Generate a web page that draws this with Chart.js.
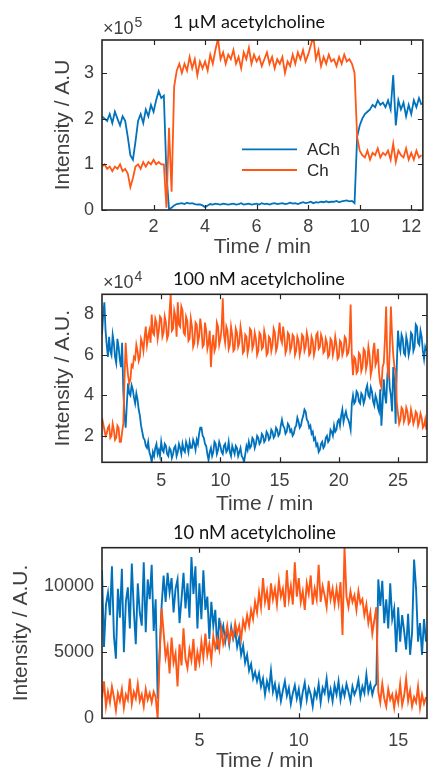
<!DOCTYPE html>
<html><head><meta charset="utf-8">
<script src="https://cdn.jsdelivr.net/npm/chart.js@4.4.0/dist/chart.umd.min.js"></script>
<style>
html,body{margin:0;padding:0;background:#fff;width:428px;height:770px;overflow:hidden}
.p{position:absolute;left:0;width:428px}
</style></head><body>
<div class="p" style="top:0;height:258px"><canvas id="c1"></canvas></div>
<div class="p" style="top:258px;height:256px"><canvas id="c2"></canvas></div>
<div class="p" style="top:514px;height:256px"><canvas id="c3"></canvas></div>
<script>
// ---------- Panel 1: 1 µM acetylcholine (values ×10^5) ----------
const time1Start = 0, time1Step = 0.1;
const ach1 = [
2.05,2.0,1.95,2.1,1.9,2.15,2.0,1.85,2.05,1.95,
1.6,1.2,1.1,1.5,1.95,2.1,1.9,2.2,2.05,2.3,
2.15,2.4,2.6,2.45,2.5,
0.8,0.02,0.05,0.1,0.13,
0.14,0.15,0.13,0.16,0.14,0.15,0.13,0.12,0.12,0.1,
0.06,0.1,0.13,0.12,0.14,0.13,0.12,0.14,0.13,0.12,
0.13,0.14,0.12,0.13,0.15,0.12,0.13,0.14,0.12,0.13,
0.14,0.12,0.15,0.13,0.14,0.12,0.14,0.15,0.13,0.14,
0.15,0.13,0.14,0.16,0.14,0.15,0.13,0.15,0.17,0.15,
0.16,0.18,0.15,0.17,0.16,0.18,0.17,0.19,0.17,0.18,
0.18,0.2,0.17,0.19,0.2,0.21,0.19,0.2,0.15,1.6,
1.85,2.0,2.1,2.15,2.2,2.3,2.25,2.4,2.3,2.35,
2.25,2.4,2.2,2.95,1.85,2.4,2.2,2.35,2.05,2.3,
2.1,2.4,2.25,2.45,2.3];
const ch1 = [
0.95,1.0,0.9,0.95,0.85,0.95,0.9,1.0,0.85,0.9,
0.8,0.5,0.7,0.95,1.0,0.9,1.05,0.95,1.05,1.0,
1.1,1.0,1.05,1.0,1.0,
0.05,1.8,0.4,2.7,3.05,
3.2,3.0,3.2,3.05,3.35,3.1,3.3,2.95,3.25,3.1,
3.25,3.05,3.4,3.2,3.5,3.75,3.3,3.45,3.2,3.4,
3.3,3.5,3.2,3.35,3.1,3.45,3.3,3.55,3.2,3.4,
3.25,3.35,3.15,3.3,3.45,3.2,3.35,3.1,3.3,3.2,
3.35,3.0,3.25,3.15,3.4,3.2,3.45,3.3,3.5,3.25,
3.4,3.6,3.8,3.3,3.5,3.15,3.35,3.2,3.4,3.25,
3.3,3.15,3.35,3.2,3.4,3.25,3.3,3.2,3.0,1.6,
1.3,1.2,1.15,1.3,1.1,1.25,1.2,1.35,1.15,1.25,
1.2,1.3,1.1,1.45,1.05,1.3,1.2,1.15,1.35,1.1,
1.25,1.1,1.3,1.15,1.2];
const xTicks1 = [2,4,6,8,10,12];
const yTicks1 = [0,1,2,3];

// ---------- Panel 2: 100 nM acetylcholine (values ×10^4) ----------
const time2Start = 0, time2Step = 0.1;
const ach2 = [
7.0,8.0,8.6,7.2,6.5,5.9,6.9,6.2,6.0,7.0,
6.6,5.9,5.6,6.8,6.4,5.8,5.4,6.6,4.2,3.0,
2.4,3.6,4.6,4.1,4.0,4.5,4.3,3.9,3.6,4.1,
3.8,3.3,3.0,2.5,2.2,1.9,1.8,1.5,1.4,1.7,
1.2,1.0,0.7,1.2,1.0,1.4,1.6,1.1,1.3,1.0,
1.7,1.3,1.2,1.6,1.5,1.1,1.0,1.4,1.3,0.9,
1.1,1.4,1.5,1.0,1.2,1.6,1.4,1.1,1.6,1.3,
1.2,1.7,1.5,1.2,1.7,1.4,1.4,1.8,1.6,1.3,
1.8,1.6,2.1,2.4,2.4,2.0,1.9,1.6,1.5,1.1,
0.8,1.2,1.4,1.0,1.2,1.7,1.6,1.1,1.3,1.7,
1.5,1.2,1.1,1.5,1.6,1.2,1.3,1.7,1.2,1.0,
1.5,1.3,1.1,1.5,1.4,1.0,1.2,1.4,1.0,0.9,
0.7,1.1,1.5,1.3,1.7,1.4,1.5,1.9,1.8,1.4,
1.6,2.0,1.9,1.6,1.7,2.1,2.0,1.7,1.8,2.2,
2.1,1.8,1.9,2.3,2.2,1.9,2.0,2.4,2.3,2.0,
2.1,2.5,2.8,2.5,2.4,2.1,2.2,2.6,2.5,2.2,
2.3,2.0,2.1,2.4,2.5,2.9,2.7,2.4,2.5,2.8,
3.0,3.3,3.2,2.8,2.7,2.4,2.5,2.1,2.2,1.8,
1.9,1.5,1.6,1.2,1.3,1.6,1.7,1.4,1.5,1.9,
2.0,1.7,1.8,2.3,2.2,2.0,2.5,2.2,2.3,2.7,
2.8,2.5,3.0,3.3,2.7,3.0,3.2,2.9,2.8,2.6,
2.3,3.6,4.0,3.6,3.7,4.2,4.1,3.7,3.6,4.1,
4.0,3.6,3.8,4.3,4.5,4.0,3.9,4.4,4.2,3.7,
3.5,4.0,3.8,3.4,3.2,4.3,2.5,3.6,4.8,4.0,
3.6,5.0,5.6,4.4,4.0,3.2,5.4,4.6,2.6,5.5,
7.2,6.5,6.2,7.0,6.8,6.1,6.0,6.9,6.6,6.0,
6.3,7.1,7.0,6.2,6.4,7.5,7.4,6.6,6.5,7.2,
6.9,6.2,5.8,6.4,6.2];
const ch2 = [
2.9,2.6,2.3,2.0,2.1,2.4,2.5,1.9,2.0,2.6,
2.3,1.8,1.9,2.5,2.4,1.7,1.7,2.2,2.6,4.8,
6.6,5.6,5.0,4.6,4.8,5.5,5.4,5.9,5.8,6.5,
6.2,5.7,5.9,6.8,6.6,6.2,6.9,7.4,6.5,6.9,
7.2,6.6,8.0,7.1,7.0,7.8,7.6,6.8,7.2,7.9,
7.8,6.9,7.1,7.9,7.6,6.8,7.0,8.1,9.0,7.2,
7.3,8.2,7.9,6.9,8.6,7.5,7.4,8.4,8.2,7.1,
7.0,7.9,7.7,6.7,6.8,7.8,7.4,6.4,6.6,7.6,
7.5,6.6,6.9,7.8,7.3,6.4,6.5,7.6,7.2,6.3,
6.6,7.2,5.4,6.5,7.0,6.2,6.4,7.6,7.4,6.5,
6.8,7.3,8.8,7.0,6.6,7.4,7.2,6.3,6.5,7.4,
7.0,6.2,6.3,7.3,7.1,6.4,6.6,7.4,7.0,6.1,
6.2,7.0,6.9,6.1,6.4,7.3,7.2,6.3,6.5,7.1,
6.8,6.0,6.2,7.1,7.0,6.3,6.4,7.2,6.9,6.0,
6.1,6.9,6.8,6.2,6.5,7.3,7.1,6.2,6.4,7.0,
7.6,6.8,6.6,7.4,6.9,6.1,6.3,7.1,7.0,6.2,
6.4,7.0,6.9,6.0,6.2,6.9,6.7,6.0,6.3,7.0,
6.9,6.2,6.4,7.1,6.8,6.0,6.1,6.9,6.7,6.0,
6.3,7.0,7.1,6.3,6.4,7.0,6.8,6.1,6.2,6.8,
6.6,5.9,6.0,6.8,6.7,6.0,6.3,6.9,6.5,5.8,
5.9,6.7,6.6,6.0,6.2,6.9,6.8,6.0,6.1,6.6,
8.5,6.0,5.0,5.9,5.8,5.1,5.2,6.1,6.0,5.2,
5.4,6.3,6.2,5.3,5.6,6.4,6.0,5.0,5.3,6.2,
6.6,5.5,5.7,6.3,5.1,4.6,4.4,5.4,5.6,6.8,
8.4,5.6,4.8,6.2,8.4,7.0,6.0,5.4,5.2,3.6,
3.1,2.6,2.8,3.4,3.3,2.7,2.9,3.4,3.2,2.6,
2.7,3.3,3.0,2.6,2.8,3.2,3.1,2.5,2.7,3.1,
2.9,2.4,2.5,2.8,2.3];
const xTicks2 = [5,10,15,20,25];
const yTicks2 = [2,4,6,8];

// ---------- Panel 3: 10 nM acetylcholine ----------
const time3Start = 0.1, time3Step = 0.1;
const ach3 = [
11200,5400,8600,9500,7800,11500,6200,4500,9800,7600,
11300,5000,8800,9900,6800,11700,8200,5600,10200,8000,
7000,11800,6500,10500,9000,11600,6600,9000,
1500,5000,8500,10800,8800,11000,9500,10600,8000,9800,
10500,7200,9000,11000,8300,10200,7600,12200,9400,11500,
6800,10200,7500,11200,8200,9200,6000,8800,7000,8200,
5200,7600,6400,7000,5800,6700,5600,6900,6000,6600,
5400,6100,4800,5500,4200,4800,3600,4100,3000,3500,
2800,3400,2400,3000,1800,2800,2200,3600,2000,2600,
1600,2400,1300,2100,2800,1700,2300,1100,1900,2500,
1500,2200,1000,2000,2700,1400,2300,1800,900,2100,
1600,2600,1200,2300,1900,3000,1500,2200,1300,2500,
1800,2800,1400,2300,1700,2600,2000,1300,2400,1800,
2200,2900,1600,2400,1900,3300,2000,2600,1800,2400,
2600,10500,8500,10400,7200,9000,6800,10200,7500,8300,
5000,8400,5800,7800,6600,5200,7900,4800,6500,12000,
9800,5800,7200,4800,7500,5800];
const ch3 = [
1500,2800,900,2000,1200,2400,1600,600,1900,1300,
2200,800,1800,1400,3000,1100,2000,1500,2600,1300,
1800,900,2200,1400,1900,1200,2000,1600,
0,4800,8300,6500,4600,5400,3400,6100,4200,4900,
2400,5600,4000,6800,4500,3800,5200,4400,6000,3600,
5000,4200,5800,4600,6400,4800,5600,4400,6200,5300,
6000,5200,6800,5600,6200,7000,5800,6600,6100,7200,
6400,7000,6000,7400,6800,7800,7000,8200,7500,8800,
8000,9500,8400,10600,8800,9600,8200,10200,9000,9800,
8600,10400,9200,9800,8400,11200,9000,10000,8600,11800,
9200,10600,8800,9600,8200,10200,9400,10800,8600,9800,
9000,11600,8800,10000,9300,8400,10400,9000,9800,8600,
9800,8700,10300,6300,12900,9200,8400,9600,8800,9300,
8200,9600,8700,9000,7800,8600,7200,8000,6400,7400,
8400,2000,1200,2600,1500,900,2200,1400,1800,800,
1900,1200,2600,1000,1700,3000,1300,2100,900,1600,
1200,2400,800,1800,1100,1600];
const xTicks3 = [5,10,15];
const yTicks3 = [0,5000,10000];

const titles = ['1 µM acetylcholine','100 nM acetylcholine','10 nM acetylcholine'];
const yTitles = ['Intensity / A.U','Intensity / A.U.','Intensity / A.U.'];
const xTitle = 'Time / min';
const seriesNames = ['ACh','Ch'];

const COL_ACH = '#0072BD';
const COL_CH = '#FF5716';
const TXT = '#404040';
const FONT = '"Liberation Sans", Arial, Helvetica, sans-serif';
const TFONT = 'Lato, "Open Sans", sans-serif';

function toXY(t0, dt, vals){ return vals.map((v,i)=>({x: Math.round((t0+i*dt)*1000)/1000, y: v})); }

const deco = {
  id: 'deco',
  afterDatasetsDraw(chart, args, o) {
    const ctx = chart.ctx, a = chart.chartArea;
    const xs = chart.scales.x, ys = chart.scales.y;
    ctx.save();
    ctx.strokeStyle = '#262626';
    ctx.lineWidth = 1.2;
    ctx.beginPath();
    xs.ticks.forEach(t => { const px = Math.round(xs.getPixelForValue(t.value))+0.5;
      ctx.moveTo(px, a.bottom); ctx.lineTo(px, a.bottom - 5);
      ctx.moveTo(px, a.top); ctx.lineTo(px, a.top + 5); });
    ys.ticks.forEach(t => { const py = Math.round(ys.getPixelForValue(t.value))+0.5;
      ctx.moveTo(a.left, py); ctx.lineTo(a.left + 5, py);
      ctx.moveTo(a.right, py); ctx.lineTo(a.right - 5, py); });
    ctx.stroke();
    ctx.lineWidth = 1.6;
    ctx.strokeRect(a.left, a.top, a.right - a.left, a.bottom - a.top);
    ctx.fillStyle = '#111';
    ctx.textAlign = 'left'; ctx.textBaseline = 'alphabetic';
    ctx.font = '16px ' + TFONT;
    const w16 = ctx.measureText(o.title).width;
    ctx.font = (16 * o.titleW / w16).toFixed(2) + 'px ' + TFONT;
    ctx.fillText(o.title, o.titleX, a.top + o.titleDy);
    if (o.exp) {
      ctx.fillStyle = TXT;
      ctx.font = '18px ' + FONT;
      ctx.fillText('\u00D710', a.left + 1, a.top - 6.5);
      const w = ctx.measureText('\u00D710').width;
      ctx.font = '14px ' + FONT;
      ctx.fillText(o.exp, a.left + 2 + w, a.top - 13.5);
    }
    if (o.legend) {
      const L = o.legend;
      ctx.font = '17px ' + FONT;
      ctx.textBaseline = 'middle';
      L.items.forEach(it => {
        ctx.strokeStyle = it.color; ctx.lineWidth = 1.8;
        ctx.beginPath(); ctx.moveTo(L.x0, it.y); ctx.lineTo(L.x1, it.y); ctx.stroke();
        ctx.fillStyle = '#262626';
        ctx.fillText(it.label, L.tx, it.y + 1);
      });
    }
    ctx.restore();
  }
};

function makeChart(id, P) {
  new Chart(document.getElementById(id), {
    type: 'line',
    data: { datasets: [
      { label: seriesNames[1], data: toXY(P.t0, P.dt, P.ch), borderColor: COL_CH, order: 0 },
      { label: seriesNames[0], data: toXY(P.t0, P.dt, P.ach), borderColor: COL_ACH, order: 1 }
    ]},
    options: {
      responsive: true, maintainAspectRatio: false, animation: false, devicePixelRatio: 1,
      layout: { autoPadding: false, padding: { top: P.areaTop, left: 0, right: 1, bottom: P.h - P.areaBottom - P.xAxisH } },
      elements: { point: { radius: 0 }, line: { borderWidth: P.lw, tension: 0 } },
      plugins: {
        legend: { display: false }, tooltip: { enabled: false }, title: { display: false },
        deco: { title: P.title, titleX: 173, titleW: P.titleW, titleDy: P.titleDy, exp: P.exp, legend: P.legend }
      },
      scales: {
        x: {
          type: 'linear', min: P.xMin, max: P.xMax,
          afterBuildTicks: s => { s.ticks = P.xTicks.map(v => ({ value: v })); },
          afterFit: s => { s.height = P.xAxisH; },
          grid: { display: false, drawTicks: false }, border: { display: false },
          ticks: { font: { family: FONT, size: 18 }, color: TXT, padding: P.xTickPad, maxRotation: 0, autoSkip: false, callback: v => String(v) },
          title: { display: true, text: xTitle, font: { family: FONT, size: 21, lineHeight: 0.8 }, color: TXT, padding: 0 }
        },
        y: {
          type: 'linear', min: P.yMin, max: P.yMax,
          afterBuildTicks: s => { s.ticks = P.yTicks.map(v => ({ value: v })); },
          afterFit: s => { s.width = 102; },
          grid: { display: false, drawTicks: false }, border: { display: false },
          ticks: { font: { family: FONT, size: 18 }, color: TXT, padding: 8, autoSkip: false, callback: v => String(v) },
          title: { display: true, text: P.yTitle, font: { family: FONT, size: 21, lineHeight: 0.8 }, color: TXT, padding: { top: P.yTitlePad, bottom: 0 } }
        }
      }
    },
    plugins: [deco]
  });
}

makeChart('c1', { h: 258, areaTop: 40, areaBottom: 210, xAxisH: 46, xTickPad: 6.7, lw: 1.8,
  t0: time1Start, dt: time1Step, ach: ach1, ch: ch1, xMin: 0, xMax: 12.45, yMin: 0, yMax: 3.72,
  xTicks: xTicks1, yTicks: yTicks1, title: titles[0], titleW: 152, titleDy: -11.7, exp: '5',
  yTitle: yTitles[0], yTitlePad: 54.6,
  legend: { x0: 242, x1: 297, tx: 307, items: [ { label: seriesNames[0], color: COL_ACH, y: 149.3 }, { label: seriesNames[1], color: COL_CH, y: 170 } ] } });

makeChart('c2', { h: 256, areaTop: 36.3, areaBottom: 204.3, xAxisH: 50.4, xTickPad: 7.9, lw: 1.8,
  t0: time2Start, dt: time2Step, ach: ach2, ch: ch2, xMin: 0, xMax: 27.45, yMin: 0.69, yMax: 9.0,
  xTicks: xTicks2, yTicks: yTicks2, title: titles[1], titleW: 172, titleDy: -9.3, exp: '4',
  yTitle: yTitles[1], yTitlePad: 54.6, legend: null });

makeChart('c3', { h: 256, areaTop: 33.7, areaBottom: 204.3, xAxisH: 51, xTickPad: 11.7, lw: 1.9,
  t0: time3Start, dt: time3Step, ach: ach3, ch: ch3, xMin: 0.1, xMax: 16.45, yMin: 0, yMax: 12900,
  xTicks: xTicks3, yTicks: yTicks3, title: titles[2], titleW: 163, titleDy: -8.7, exp: null,
  yTitle: yTitles[2], yTitlePad: 13.2, legend: null });
</script>
</body></html>
